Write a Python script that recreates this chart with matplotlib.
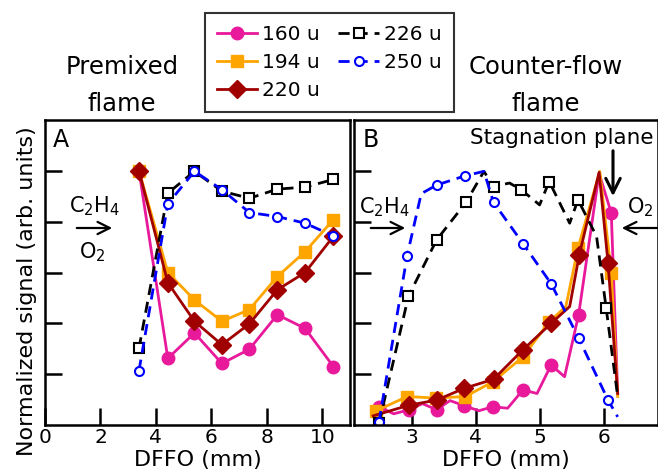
"""Premixed vs counter-flow flame: normalized PAH signals vs DFFO."""

import matplotlib
matplotlib.use("Agg")
import matplotlib.pyplot as plt
from matplotlib.patches import FancyArrowPatch

plt.rcParams["font.family"] = ["DejaVu Sans"]
plt.rcParams["mathtext.default"] = "regular"

W, H = 658, 475

# panel A (premixed flame)
xa = [3.39, 4.43, 5.39, 6.38, 7.37, 8.38, 9.38, 10.4]
a160 = [5.0, 1.31, 1.81, 1.21, 1.49, 2.17, 1.90, 1.15]
a194 = [5.0, 3.0, 2.46, 2.04, 2.27, 2.92, 3.41, 4.04]
a220 = [5.0, 2.80, 2.04, 1.58, 1.99, 2.66, 3.0, 3.71]
a226 = [1.51, 4.56, 4.99, 4.60, 4.46, 4.64, 4.68, 4.83]
a250 = [1.07, 4.35, 4.99, 4.63, 4.18, 4.10, 3.97, 3.72]

# panel B (counter-flow flame)
b160_x = [2.49, 2.72, 2.96, 3.17, 3.39, 3.60, 3.82, 4.05, 4.27, 4.50, 4.74,
          4.96, 5.18, 5.39, 5.61, 5.93, 6.12, 6.22]
b160_y = [0.36, 0.22, 0.30, 0.42, 0.30, 0.48, 0.38, 0.28, 0.36, 0.33, 0.69,
          0.62, 1.18, 0.95, 2.17, 4.95, 4.17, 0.62]
b194_x = [2.45, 2.93, 3.38, 3.84, 4.27, 4.74, 5.15, 5.41, 5.60, 5.94, 6.12, 6.22]
b194_y = [0.28, 0.56, 0.53, 0.56, 0.85, 1.34, 2.03, 2.33, 3.48, 4.99, 2.99, 0.56]
b220_x = [2.40, 2.96, 3.39, 3.82, 4.28, 4.74, 5.18, 5.47, 5.62, 5.93, 6.07, 6.22]
b220_y = [0.18, 0.39, 0.49, 0.72, 0.90, 1.48, 2.00, 2.33, 3.35, 4.97, 3.18, 0.62]
b226_x = [2.49, 2.95, 3.39, 3.85, 4.13, 4.28, 4.53, 4.71, 5.00, 5.15, 5.47,
          5.60, 5.89, 6.04, 6.22]
b226_y = [0.03, 2.53, 3.64, 4.38, 4.99, 4.69, 4.76, 4.63, 4.33, 4.79, 3.97,
          4.43, 3.71, 2.30, 0.56]
b250_x = [2.49, 2.93, 3.15, 3.39, 3.83, 4.13, 4.28, 4.74, 5.18, 5.61, 6.07, 6.22]
b250_y = [0.06, 3.33, 4.55, 4.72, 4.90, 4.99, 4.38, 3.57, 2.78, 1.71, 0.49, 0.16]

labels = ["160 u", "194 u", "220 u", "226 u", "250 u"]

MAGENTA = "#e8199a"
ORANGE = "#ffa500"
DARKRED = "#a00000"

styles = {
    "160 u": dict(color=MAGENTA, marker="o", ms=9, lw=2),
    "194 u": dict(color=ORANGE, marker="s", ms=9, lw=2),
    "220 u": dict(color=DARKRED, marker="D", ms=9, lw=2),
    "226 u": dict(color="black", marker="s", ms=6.5, lw=2, ls=(0, (4, 2.5)),
                  mfc="white", mec="black", mew=1.5),
    "250 u": dict(color="blue", marker="o", ms=6.5, lw=2, ls=(0, (4, 2.5)),
                  mfc="white", mec="blue", mew=1.5),
}

fig = plt.figure(figsize=(W / 100, H / 100), dpi=100)


def px_rect(x0, y0, x1, y1):
    return [x0 / W, 1 - y1 / H, (x1 - x0) / W, (y1 - y0) / H]


def fx(x):
    return x / W


def fy(y):
    return 1 - y / H


axA = fig.add_axes(px_rect(45, 120, 350, 425))
axB = fig.add_axes(px_rect(354, 120, 658, 425))

# panel A
for lab, ys in zip(labels, [a160, a194, a220, a226, a250]):
    axA.plot(xa, ys, label=lab, **styles[lab])

axA.set_xlim(0, 11)
axA.set_xticks([0, 2, 4, 6, 8, 10])

# panel B
b_series = [
    ("160 u", b160_x, b160_y, [0, 2, 4, 6, 8, 10, 12, 14, 16]),
    ("194 u", b194_x, b194_y, [0, 1, 2, 3, 4, 5, 6, 8, 10]),
    ("220 u", b220_x, b220_y, [1, 2, 3, 4, 5, 6, 8, 10]),
    ("226 u", b226_x, b226_y, [0, 1, 2, 3, 5, 7, 9, 11, 13]),
    ("250 u", b250_x, b250_y, [0, 1, 3, 4, 6, 7, 8, 9, 10]),
]
for lab, xs, ys, every in b_series:
    axB.plot(xs, ys, markevery=every, **styles[lab])

axB.set_xlim(2.1, 6.85)
axB.set_xticks([3, 4, 5, 6])

for ax in (axA, axB):
    ax.set_ylim(0, 6)
    ax.set_yticks([1, 2, 3, 4, 5])
    ax.set_yticklabels([])
    ax.tick_params(direction="in", length=12, width=1.8, labelsize=14.5, pad=2)
    for sp in ax.spines.values():
        sp.set_linewidth(1.8)
    ax.set_xlabel("DFFO (mm)", fontsize=16, va="top")
    ax.xaxis.set_label_coords(0.5, -0.083)

axA.set_ylabel("Normalized signal (arb. units)", fontsize=16)
axA.yaxis.set_label_coords(-0.025, 0.44)

# panel letters and flow annotations
axA.text(0.025, 0.975, "A", transform=axA.transAxes, fontsize=17, va="top")
axB.text(0.03, 0.975, "B", transform=axB.transAxes, fontsize=17, va="top")
axB.text(0.985, 0.975, "Stagnation plane", transform=axB.transAxes,
         fontsize=15.5, va="top", ha="right")

arrow = dict(arrowstyle="->", lw=1.6, color="black", mutation_scale=22)
fig.text(fx(94), fy(206), r"C$_2$H$_4$", fontsize=15, ha="center", va="center")
fig.text(fx(92), fy(252), r"O$_2$", fontsize=15, ha="center", va="center")
fig.patches.append(FancyArrowPatch(
    (fx(74), fy(228)), (fx(115), fy(228)), transform=fig.transFigure, **arrow))

fig.text(fx(384), fy(207), r"C$_2$H$_4$", fontsize=15, ha="center", va="center")
fig.patches.append(FancyArrowPatch(
    (fx(368), fy(228)), (fx(408), fy(228)), transform=fig.transFigure, **arrow))
fig.text(fx(640), fy(207), r"O$_2$", fontsize=15, ha="center", va="center")
fig.patches.append(FancyArrowPatch(
    (fx(660), fy(228)), (fx(619), fy(228)), transform=fig.transFigure, **arrow))
fig.patches.append(FancyArrowPatch(
    (fx(613), fy(148)), (fx(613), fy(199)), transform=fig.transFigure,
    arrowstyle="->", lw=2.2, color="black", mutation_scale=26))

# headers
for x, top in [(122, "Premixed"), (546, "Counter-flow")]:
    fig.text(fx(x), fy(67), top, fontsize=17.5, ha="center", va="center")
    fig.text(fx(x), fy(104), "flame", fontsize=17.5, ha="center", va="center")

handles, labs = axA.get_legend_handles_labels()
leg = fig.legend(handles, labs, ncol=2, loc="upper left",
                 bbox_to_anchor=(fx(205), fy(13)), borderaxespad=0,
                 fontsize=14.5, frameon=True, fancybox=False, handlelength=2.0,
                 handletextpad=0.25, columnspacing=0.9, labelspacing=0.45,
                 borderpad=0.6)
leg.get_frame().set_edgecolor("black")
leg.get_frame().set_linewidth(1.5)

fig.savefig("out.png", dpi=100)
